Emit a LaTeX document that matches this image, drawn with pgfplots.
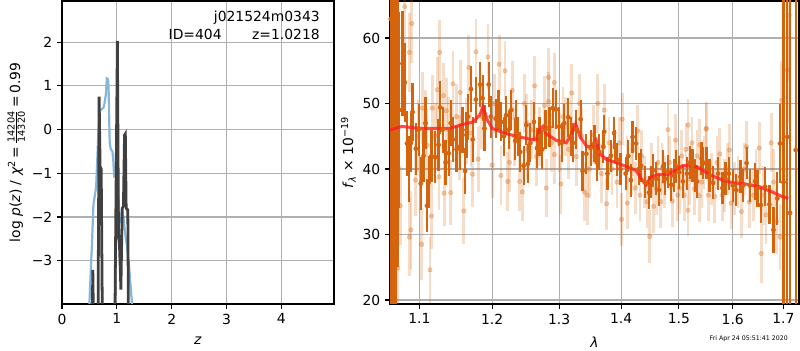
\documentclass[border=0pt]{standalone}
\usepackage{pgfplots}
\pgfplotsset{compat=1.18}
\usepackage{fontspec}
\setmainfont{DejaVu Sans}
\definecolor{gridgray}{RGB}{176,176,176}
\definecolor{pzblue}{RGB}{135,182,216}
\definecolor{chidark}{RGB}{64,64,64}
\definecolor{orng}{RGB}{214,100,12}
\definecolor{modred}{RGB}{255,30,30}
\pgfplotsset{
  common/.style={
    scale only axis, anchor=south west,
    height=218.16pt,
    grid=major, grid style={color=gridgray, line width=0.8pt},
    axis line style={line width=0.8pt},
    tick style={black, line width=0.8pt}, major tick length=3.5pt, tick align=outside,
    xtick pos=left, ytick pos=left,
    /pgf/number format/assume math mode=true,
    ticklabel style={font=\fontsize{10}{12}\selectfont},
    label style={font=\fontsize{10}{12}\selectfont},
  }
}
\begin{document}
\begin{tikzpicture}
\useasboundingbox (0,0) rectangle (576pt,252pt);
% ---------------- left panel
\begin{axis}[common, at={(44.64pt,33.12pt)}, width=195.84pt,
  xmin=0, xmax=4.96, ymin=-3.99, ymax=2.94,
  xtick={0,1,2,3,4}, ytick={-3,-2,-1,0,1,2}, yticklabels={−3,−2,−1,0,1,2},
  xlabel={\textit{z}},
  ylabel={log \textit{p}(\textit{z}) / \textit{χ}\textsuperscript{2}\,=\,$\frac{\mbox{\fontsize{7}{7}\selectfont 14204}}{\mbox{\fontsize{7}{7}\selectfont 14320}}$\,=\,0.99},
  ylabel style={yshift=-2pt},
  xlabel style={yshift=-2pt},
]
\addplot[pzblue, line width=1.6pt] coordinates {
(0.47,-5) (0.5,-3.97) (0.55,-2.5) (0.573,-1.72) (0.623,-1.31) (0.666,0.0) (0.69,0.42) (0.71,0.45)
(0.757,0.5) (0.775,0.6) (0.8,0.8) (0.818,1.17) (0.84,1.15) (0.85,0.9) (0.87,-0.3) (0.89,-0.45)
(0.92,-0.5) (0.935,-0.7) (0.953,-1.1) (0.975,-0.9) (1.0,-0.75) (1.02,-1.3) (1.04,-1.8) (1.062,-2.07)
(1.09,-1.95) (1.12,-1.99) (1.15,-2.37) (1.18,-2.6) (1.22,-3.1) (1.276,-3.97) (1.3,-5)
};
\addplot[chidark, line width=2pt] coordinates {
(0.545,-5) (0.562,-3.21) (0.58,-5) (0.655,-5) (0.677,0.75) (0.695,-0.85) (0.715,-0.9) (0.74,-5)
(0.96,-5) (1.01,2.03) (1.03,-2.37) (1.05,-2.7) (1.074,-3.66) (1.09,-2.4) (1.1,-1.8) (1.12,-1.75)
(1.14,-0.13) (1.155,-0.1) (1.17,-1.8) (1.2,-1.84) (1.215,-5)
};
\end{axis}
\node[anchor=east, inner sep=0pt, font=\fontsize{10}{12}\selectfont] at (230.4pt,239pt) {j021524m0343};
\node[anchor=east, inner sep=0pt, font=\fontsize{10}{12}\selectfont] at (230.4pt,227.5pt) {ID=404\hspace{2.2em}z=1.0218};
% ---------------- right panel
\begin{semilogxaxis}[common, at={(280.8pt,33.12pt)}, width=294.48pt,
  xmin=1.062, xmax=1.732, ymin=19.39, ymax=65.65,
  xtick={1.1,1.2,1.3,1.4,1.5,1.6,1.7}, xticklabels={1.1,1.2,1.3,1.4,1.5,1.6,1.7},
  minor xtick={},
  ytick={20,30,40,50,60},
  xlabel={\textit{λ}},
  xlabel style={yshift=-2pt},
  ylabel={\textit{f}\textsubscript{\textit{λ}} × 10\textsuperscript{−19}},
  ylabel style={yshift=-2pt},
]
% light points
\addplot[orng, only marks, mark=*, mark size=1.6pt, mark options={draw=orng, fill=orng, line width=0.4pt, opacity=0.3},
  error bars/.cd, y dir=both, y explicit, error mark=none,
  error bar style={line width=2pt, color=orng, draw opacity=0.22}]
  table[x=x, y=y, y error=e] {
x y e
1.081 64.8 6
1.090 62.2 6
1.072 24.9 6
1.075 34.4 6
1.087 29.6 6
1.089 30.7 6
1.087 57.8 6
1.095 38.3 5.5
1.098 45 5.5
1.103 28.5 5.5
1.104 49.3 5.5
1.108 47 5
1.110 43.6 5.5
1.114 24.6 5
1.116 32.8 5
1.117 49.3 5
1.121 45 5
1.124 52.1 5
1.126 38.8 5
1.127 57.8 5
1.132 51.2 5
1.133 36.3 5
1.136 48.9 5
1.139 46 5
1.142 36.4 5
1.145 53.0 5
1.150 48 5
1.154 43.3 5
1.155 51.7 5
1.160 33.6 5
1.164 45.8 5
1.167 55.5 5
1.170 45.5 5
1.172 39.2 5
1.177 57.9 5
1.180 41.5 5
1.185 48 5
1.194 57.1 5
1.200 40.6 5
1.203 50 4.5
1.210 56 4.5
1.2126 39 4.5
1.2186 55 4.5
1.2225 38.1 4.5
1.225 41 4.5
1.229 52 4.5
1.232 45 4.5
1.240 38.1 4.5
1.244 36.5 4.5
1.247 50 4.5
1.250 47 4.5
1.252 43 4.5
1.258 46 4.5
1.2625 52.7 4.5
1.265 41.9 4.5
1.270 45 4.5
1.2775 49.7 4.5
1.280 37.1 4.5
1.2835 54 4.5
1.2835 50.3 4.5
1.288 44 4.5
1.2925 53.2 4.5
1.2925 42.2 4.5
1.300 44 4.5
1.3027 37.7 4.5
1.306 48 4.5
1.310 46.5 4.5
1.315 43 4.5
1.3197 51.6 4.5
1.3268 41.9 4.5
1.332 50 4.5
1.336 45 4.5
1.340 36.5 4.5
1.3443 36 4.5
1.348 40 4.5
1.355 45.2 4.5
1.3615 50 4.5
1.367 39.3 4.5
1.372 49 4
1.376 34.7 4
1.380 44 4
1.385 40 4
1.393 38 4
1.397 44 4
1.4007 32.3 4
1.4018 47.6 4
1.4105 34.8 4
1.410 41 4
1.417 40 4
1.420 43 4
1.424 37.1 4
1.428 45.8 4
1.432 36 4
1.435 42 4
1.440 38 4
1.444 35 4
1.4486 29.7 4
1.452 40 4
1.4556 34.3 4
1.460 37 4
1.463 41 4
1.468 35 4
1.470 40 4
1.474 38 4
1.4807 46 4
1.484 41 4
1.4884 35.1 4
1.4942 44.4 4
1.498 36 4
1.5013 37.1 4
1.505 42 4
1.510 36 4
1.513 43 4
1.5167 46.7 4
1.5167 33.7 4
1.520 38.5 4
1.524 44 4
1.528 37 4
1.533 42 4
1.537 35.9 4
1.5383 43.7 4
1.542 38 4
1.546 41 4
1.5494 46.1 4
1.5507 46.2 4
1.554 36 4
1.560 38.5 4
1.5661 35.8 4
1.570 41 4
1.5753 42.3 4
1.580 36 4
1.585 37.5 4
1.590 40 4
1.5938 42.9 4
1.597 34.8 4
1.604 37 4
1.610 38 4
1.6167 33.5 4
1.622 40 4
1.6267 43.4 4
1.632 35 4
1.640 36 4
1.645 39 4
1.6518 43.2 4
1.6552 27.1 4.5
1.660 36 4.5
1.665 33 4.5
1.6751 44 4.5
1.680 38 5
1.686 32 5
1.693 29.6 5
1.6964 50.5 6
1.7078 55.1 8
1.7118 63.5 10
};
% dark points
\addplot[orng, only marks, mark=*, mark size=1.5pt, mark options={draw=orng, fill=orng, line width=0.4pt},
  error bars/.cd, y dir=both, y explicit, error mark=none,
  error bar style={line width=1.6pt, color=orng}]
  table[x=x, y=y, y error=e] {
x y e
1.063 62.9 45
1.066 48 35
1.069 40 30
1.072 55 30
1.074 49.0 15
1.078 56.1 8
1.081 53.2 6
1.0837 43.9 5
1.086 40 5
1.089 44.0 4.5
1.091 48.7 4.5
1.0953 43.1 4
1.099 46 4
1.1018 37.8 4
1.1055 42.0 4
1.108 47 4
1.110 34.4 4
1.1123 38.0 4
1.116 42 4
1.1209 41.8 4
1.1255 43.7 4
1.1277 49.4 4
1.131 46 3.5
1.135 41 3.5
1.1392 42.4 3.5
1.142 47 3.5
1.145 44.5 3.5
1.150 43 3.5
1.1545 43.4 3.5
1.158 46 3.5
1.1618 39.7 3.5
1.1636 45.2 3.5
1.166 48 3.5
1.170 52.2 3.5
1.1723 44.5 3.5
1.1768 50.6 3.5
1.1828 52.9 3.5
1.1864 50.8 3.5
1.189 46.2 3.5
1.195 52.9 3.5
1.198 48 3.2
1.205 47.7 3
1.209 49 3
1.213 47.2 3
1.217 45 3
1.220 48.2 3
1.224 46 3
1.2276 49.0 3
1.2336 44.3 3
1.235 47.6 3
1.238 45 3
1.241 42.6 3
1.246 40.5 3
1.250 46.7 3
1.2525 40.8 3
1.256 44 3
1.2615 47.2 3
1.266 43.2 3
1.270 45 3
1.274 43.0 3
1.279 46 3
1.285 46.4 3
1.290 49.3 3
1.295 49.1 3
1.300 46.5 3
1.304 44 3
1.308 47.0 3
1.3144 47.9 3
1.318 45 3
1.322 44 3
1.327 46 3
1.334 47.6 3
1.337 39.7 3
1.343 42.3 3
1.350 43.2 2.8
1.356 43.9 2.8
1.360 41 2.8
1.364 42.6 2.8
1.3706 43.4 2.5
1.372 45.7 2.5
1.3775 39.3 2.5
1.383 42 2.5
1.3883 45.5 2.5
1.390 43.4 2.5
1.3936 41.4 2.5
1.399 40 2.5
1.4077 39.3 2.5
1.412 42 2.5
1.4165 38.3 2.5
1.4193 44.9 2.5
1.4253 43.9 2.5
1.430 40 2.5
1.434 40.5 2.5
1.440 38 2.5
1.4474 36.4 2.5
1.451 38 2.5
1.4544 39.8 2.5
1.460 38.5 2.5
1.465 36.8 2.5
1.472 40.4 2.5
1.476 38.5 2.5
1.4807 39.6 2.5
1.4867 37.6 2.5
1.491 39 2.5
1.4954 40.4 2.5
1.501 39.5 2.5
1.5074 38.1 2.5
1.5148 39.3 2.5
1.520 41 2.5
1.5248 40.5 2.5
1.529 39 2.5
1.5333 38.1 2.5
1.5415 41.6 2.5
1.5444 40.9 2.5
1.5507 40.9 2.5
1.556 39 2.5
1.563 37.9 2.5
1.5722 39.3 2.5
1.5804 37.1 2.5
1.586 38.5 2.5
1.5926 39.3 2.5
1.600 37.5 2.5
1.6068 36.8 2.5
1.6147 38.8 2.5
1.620 37.5 2.5
1.6267 40.9 2.5
1.633 37.5 2.5
1.6432 38.1 2.8
1.648 37 2.8
1.6546 34.5 2.8
1.6631 37.3 3
1.6717 34.6 3
1.6797 30.7 3.5
1.6876 35.5 4
1.693 43.9 6
1.700 38 30
1.7078 44.9 30
1.7133 33.3 35
1.725 42.9 40
};
% model
\addplot[modred, line width=2.2pt, opacity=0.8] coordinates {
(1.062,45.95) (1.077,46.5) (1.1,46.2) (1.141,46.2) (1.155,46.7) (1.173,47.2) (1.182,48.2)
(1.187,49.5) (1.193,47.5) (1.2,46.2) (1.22,45.4) (1.24,44.9) (1.2575,44.5) (1.265,44.5)
(1.27,46.0) (1.275,46.5) (1.28,45.4) (1.295,44.4) (1.311,44.0) (1.319,45.2) (1.326,46.9)
(1.333,44.9) (1.344,43.4) (1.352,43.4) (1.359,44.4) (1.364,42.4) (1.375,41.5) (1.391,41.0)
(1.408,40.4) (1.425,39.8) (1.436,38.3) (1.443,37.6) (1.451,38.8) (1.466,39.2) (1.48,39.1)
(1.489,39.6) (1.507,40.5) (1.526,40.5) (1.538,40.1) (1.557,39.1) (1.581,38.3) (1.6,37.9)
(1.626,37.7) (1.652,37.3) (1.677,36.5) (1.697,35.8) (1.71,35.5)
};
\end{semilogxaxis}
\node[anchor=east, inner sep=0pt, font=\fontsize{4.5}{5}\selectfont] at (567.4pt,7.9pt) {Fri Apr 24 05:51:41 2020};
\end{tikzpicture}
\end{document}
